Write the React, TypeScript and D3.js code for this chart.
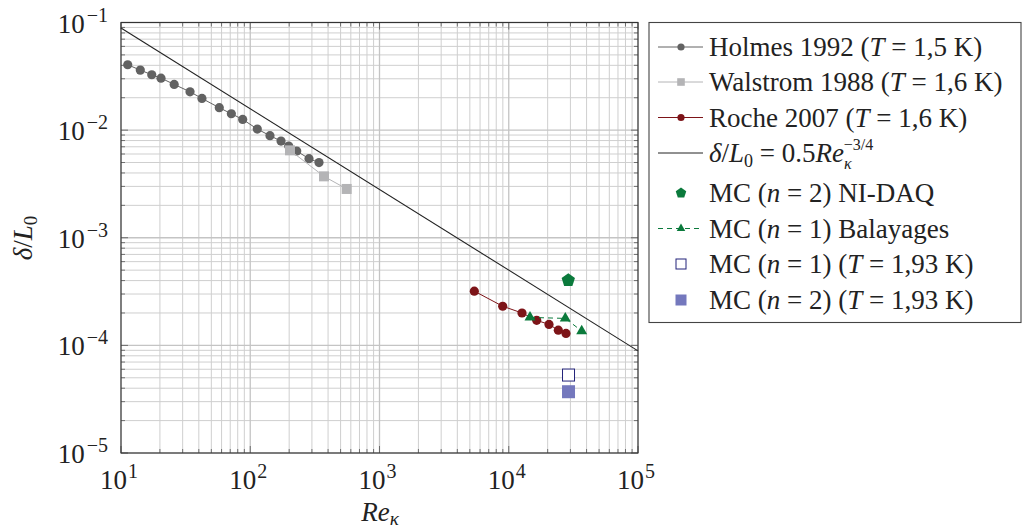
import React from "react";
import * as d3 from "d3";

const holmesX = [11.27, 14.1, 17.3, 20.4, 25.8, 34.2, 42.3, 57.6, 71.4, 87.4, 113.4, 142.1, 173, 198.4, 228.8, 284.8, 340.3];
const holmesY = [0.0405, 0.0361, 0.0327, 0.0304, 0.0266, 0.0227, 0.0197, 0.01615, 0.0142, 0.01258, 0.01023, 0.00888, 0.00791, 0.00711, 0.00639, 0.00543, 0.00499];
const walstromX = [203, 372, 557.5];
const walstromY = [0.00649, 0.00372, 0.00284];
const rocheX = [5414, 8979, 12662, 16452, 20484, 24178, 27731];
const rocheY = [3.19e-4, 2.31e-4, 2.0e-4, 1.71e-4, 1.565e-4, 1.385e-4, 1.29e-4];
const lawX = [10, 1e5];
const lawY = [0.0889, 8.89e-5];
const nidaqX = [28880];
const nidaqY = [4.03e-4];
const balayX = [14602, 27380, 36675];
const balayY = [1.82e-4, 1.78e-4, 1.36e-4];
const mc1X = [29000];
const mc1Y = [5.3e-5];
const mc2X = [29000];
const mc2Y = [3.71e-5];
const xTicks = [1, 2, 3, 4, 5];
const yTicks = [-1, -2, -3, -4, -5];

const FONT = "'Liberation Serif', 'DejaVu Serif', serif";
const W = 1022, H = 531;
const L = 121, R = 638, T = 22.5, B = 453;

const C_HOLMES = "#626262";
const C_WAL = "#b4b4b6";
const C_ROCHE = "#7d1418";
const C_GREEN = "#0b7a3c";
const C_NAVY = "#23237a";
const C_LAV = "#7478bd";

function pentagon(cx: number, cy: number, r: number) {
  const pts: string[] = [];
  for (let i = 0; i < 5; i++) {
    const a = -Math.PI / 2 + (i * 2 * Math.PI) / 5;
    pts.push(`${cx + r * Math.cos(a)},${cy + r * Math.sin(a)}`);
  }
  return pts.join(" ");
}
function triangle(cx: number, cy: number, s: number) {
  const h = s * 0.866;
  return `${cx},${cy - (2 * h) / 3} ${cx - s / 2},${cy + h / 3} ${cx + s / 2},${cy + h / 3}`;
}

export default function App() {
  const x = d3.scaleLog().domain([10, 1e5]).range([L, R]);
  const y = d3.scaleLog().domain([1e-5, 1e-1]).range([B, T]);
  const line = (xs: number[], ys: number[]) =>
    d3.line<number>().x((_, i) => x(xs[i])).y((_, i) => y(ys[i]))(xs.map((v) => v)) || "";

  const minorX: number[] = [];
  for (let e = 1; e < 5; e++) for (let m = 2; m <= 9; m++) minorX.push(m * Math.pow(10, e));
  const minorY: number[] = [];
  for (let e = -5; e < -1; e++) for (let m = 2; m <= 9; m++) minorY.push(m * Math.pow(10, e));
  const majX = xTicks.map((e) => Math.pow(10, e));
  const majY = yTicks.map((e) => Math.pow(10, e));

  const gridC = "#cfcfcf";
  const tickC = "#555";

  const legX0 = 649, legY0 = 22.5, legW = 372, legH = 300;
  const rows = [47, 82, 117.5, 153, 193, 228.5, 264, 300];
  const lx1 = 658, lx2 = 703, lmx = 681, tx = 709;
  const fs = 27;
  const sub = 18;

  return (
    <svg width={W} height={H} style={{ position: "absolute", left: 0, top: 0, background: "#fff" }} fontFamily={FONT}>
      <rect x={0} y={0} width={W} height={H} fill="#fff" />
      {/* grid */}
      {minorX.map((v, i) => (
        <line key={"gx" + i} x1={x(v)} x2={x(v)} y1={T} y2={B} stroke={gridC} strokeWidth={1} />
      ))}
      {minorY.map((v, i) => (
        <line key={"gy" + i} x1={L} x2={R} y1={y(v)} y2={y(v)} stroke={gridC} strokeWidth={1} />
      ))}
      {majX.map((v, i) => (
        <line key={"Gx" + i} x1={x(v)} x2={x(v)} y1={T} y2={B} stroke="#c4c4c4" strokeWidth={1.3} />
      ))}
      {majY.map((v, i) => (
        <line key={"Gy" + i} x1={L} x2={R} y1={y(v)} y2={y(v)} stroke="#c4c4c4" strokeWidth={1.3} />
      ))}
      {/* ticks */}
      {minorX.map((v, i) => (
        <g key={"tx" + i} stroke={tickC} strokeWidth={0.8}>
          <line x1={x(v)} x2={x(v)} y1={B} y2={B - 4} />
          <line x1={x(v)} x2={x(v)} y1={T} y2={T + 4} />
        </g>
      ))}
      {minorY.map((v, i) => (
        <g key={"ty" + i} stroke={tickC} strokeWidth={0.8}>
          <line x1={L} x2={L + 4} y1={y(v)} y2={y(v)} />
          <line x1={R} x2={R - 4} y1={y(v)} y2={y(v)} />
        </g>
      ))}
      {majX.map((v, i) => (
        <g key={"TX" + i} stroke={tickC} strokeWidth={0.8}>
          <line x1={x(v)} x2={x(v)} y1={B} y2={B - 7} />
          <line x1={x(v)} x2={x(v)} y1={T} y2={T + 7} />
        </g>
      ))}
      {majY.map((v, i) => (
        <g key={"TY" + i} stroke={tickC} strokeWidth={0.8}>
          <line x1={L} x2={L + 7} y1={y(v)} y2={y(v)} />
          <line x1={R} x2={R - 7} y1={y(v)} y2={y(v)} />
        </g>
      ))}

      {/* law line */}
      <path d={line(lawX, lawY)} fill="none" stroke="#222" strokeWidth={1.1} />
      {/* Holmes */}
      <path d={line(holmesX, holmesY)} fill="none" stroke={C_HOLMES} strokeWidth={1} />
      {holmesX.map((v, i) => (
        <circle key={"h" + i} cx={x(v)} cy={y(holmesY[i])} r={4.6} fill={C_HOLMES} />
      ))}
      {/* Walstrom */}
      <path d={line(walstromX, walstromY)} fill="none" stroke={C_WAL} strokeWidth={1} />
      {walstromX.map((v, i) => (
        <rect key={"w" + i} x={x(v) - 5} y={y(walstromY[i]) - 5} width={10} height={10} fill={C_WAL} />
      ))}
      {/* Roche */}
      <path d={line(rocheX, rocheY)} fill="none" stroke={C_ROCHE} strokeWidth={1} />
      {rocheX.map((v, i) => (
        <circle key={"r" + i} cx={x(v)} cy={y(rocheY[i])} r={4.6} fill={C_ROCHE} />
      ))}
      {/* Balayages */}
      <path d={line(balayX, balayY)} fill="none" stroke={C_GREEN} strokeWidth={1} strokeDasharray="5 4" />
      {balayX.map((v, i) => (
        <polygon key={"b" + i} points={triangle(x(v), y(balayY[i]), 11)} fill={C_GREEN} />
      ))}
      {/* NI-DAQ */}
      {nidaqX.map((v, i) => (
        <polygon key={"n" + i} points={pentagon(x(v), y(nidaqY[i]), 7)} fill={C_GREEN} />
      ))}
      {/* MC n=1 */}
      {mc1X.map((v, i) => (
        <rect key={"m1" + i} x={x(v) - 6} y={y(mc1Y[i]) - 6} width={12} height={12} fill="#fff" stroke={C_NAVY} strokeWidth={1} />
      ))}
      {mc2X.map((v, i) => (
        <rect key={"m2" + i} x={x(v) - 6.5} y={y(mc2Y[i]) - 6.5} width={13} height={13} fill={C_LAV} />
      ))}

      {/* frame */}
      <rect x={L} y={T} width={R - L} height={B - T} fill="none" stroke="#333" strokeWidth={1.1} />

      {/* tick labels */}
      {xTicks.map((e) => (
        <text key={"xl" + e} x={x(Math.pow(10, e)) - 2} y={489} fontSize={27} textAnchor="middle" fill="#222">
          10<tspan dx={1} dy={-11} fontSize={20}>{e}</tspan>
        </text>
      ))}
      {yTicks.map((e) => (
        <text key={"yl" + e} x={108} y={y(Math.pow(10, e)) + 10} fontSize={27} textAnchor="end" fill="#222">
          10<tspan dx={2} dy={-11} fontSize={20}>{"\u2212" + Math.abs(e)}</tspan>
        </text>
      ))}

      {/* axis labels */}
      <text x={380} y={521} fontSize={27} textAnchor="middle" fontStyle="italic" fill="#222">
        Re<tspan dy={4} fontSize={19}>κ</tspan>
      </text>
      <text transform="translate(32,238) rotate(-90)" fontSize={27} textAnchor="middle" fill="#222">
        <tspan fontStyle="italic">δ</tspan>/<tspan fontStyle="italic">L</tspan>
        <tspan dy={5} fontSize={19}>0</tspan>
      </text>

      {/* legend */}
      <rect x={legX0} y={legY0} width={legW} height={legH} fill="#fff" stroke="#444" strokeWidth={1.1} />
      <line x1={lx1} x2={lx2} y1={rows[0]} y2={rows[0]} stroke={C_HOLMES} strokeWidth={1} />
      <circle cx={lmx} cy={rows[0]} r={3.6} fill={C_HOLMES} />
      <line x1={lx1} x2={lx2} y1={rows[1]} y2={rows[1]} stroke={C_WAL} strokeWidth={1} />
      <rect x={lmx - 3.8} y={rows[1] - 3.8} width={7.6} height={7.6} fill={C_WAL} />
      <line x1={lx1} x2={lx2} y1={rows[2]} y2={rows[2]} stroke={C_ROCHE} strokeWidth={1} />
      <circle cx={lmx} cy={rows[2]} r={3.6} fill={C_ROCHE} />
      <line x1={lx1} x2={lx2} y1={rows[3]} y2={rows[3]} stroke="#222" strokeWidth={1} />
      <polygon points={pentagon(lmx, rows[4], 5.5)} fill={C_GREEN} />
      <line x1={lx1} x2={lx2} y1={rows[5]} y2={rows[5]} stroke={C_GREEN} strokeWidth={1} strokeDasharray="5 4" />
      <polygon points={triangle(lmx, rows[5], 8.5)} fill={C_GREEN} />
      <rect x={lmx - 5} y={rows[6] - 5} width={10} height={10} fill="#fff" stroke={C_NAVY} strokeWidth={1} />
      <rect x={lmx - 5.5} y={rows[7] - 5.5} width={11} height={11} fill={C_LAV} />

      <g fontSize={fs} fill="#222">
        <text x={tx} y={rows[0] + 9}>
          Holmes 1992 (<tspan fontStyle="italic">T</tspan> = 1,5 K)
        </text>
        <text x={tx} y={rows[1] + 9}>
          Walstrom 1988 (<tspan fontStyle="italic">T</tspan> = 1,6 K)
        </text>
        <text x={tx} y={rows[2] + 9}>
          Roche 2007 (<tspan fontStyle="italic">T</tspan> = 1,6 K)
        </text>
        <text x={tx} y={rows[3] + 9}>
          <tspan fontStyle="italic">δ</tspan>/<tspan fontStyle="italic">L</tspan>
          <tspan dy={5} fontSize={sub}>0</tspan>
          <tspan dy={-5}> = 0.5</tspan>
          <tspan fontStyle="italic">Re</tspan>
          <tspan dy={7} fontSize={16} fontStyle="italic">κ</tspan>
          <tspan dy={-19} dx={-8} fontSize={16}>−3/4</tspan>
        </text>
        <text x={tx} y={rows[4] + 9}>
          MC (<tspan fontStyle="italic">n</tspan> = 2) NI-DAQ
        </text>
        <text x={tx} y={rows[5] + 9}>
          MC (<tspan fontStyle="italic">n</tspan> = 1) Balayages
        </text>
        <text x={tx} y={rows[6] + 9}>
          MC (<tspan fontStyle="italic">n</tspan> = 1) (<tspan fontStyle="italic">T</tspan> = 1,93 K)
        </text>
        <text x={tx} y={rows[7] + 9}>
          MC (<tspan fontStyle="italic">n</tspan> = 2) (<tspan fontStyle="italic">T</tspan> = 1,93 K)
        </text>
      </g>
    </svg>
  );
}
